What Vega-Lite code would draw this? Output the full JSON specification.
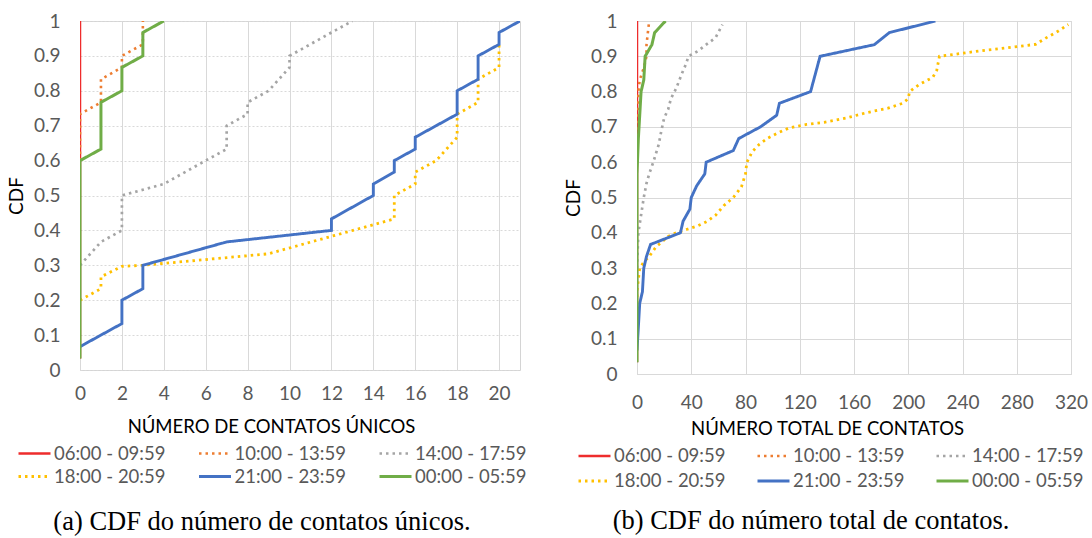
{
  "$schema": "https://vega.github.io/schema/vega-lite/v6.json",
  "background": "white",
  "padding": {"left": 6, "top": 11, "right": 5, "bottom": 0},
  "config": {
    "font": "Lato",
    "view": {"stroke": "#D4D4D4"},
    "axis": {
      "labelFont": "Lato", "labelFontSize": 19, "labelColor": "#595959",
      "ticks": false, "domain": false, "gridColor": "#D9D9D9", "gridWidth": 1,
      "titleFont": "Lato", "titleFontSize": 18.5, "titleFontWeight": "normal", "titleColor": "#000000"
    },
    "legend": {
      "symbolType": "M-1.6,0H1.6", "symbolSize": 400, "symbolStrokeWidth": 3.5,
      "labelFont": "Lato", "labelFontSize": 18.5, "labelColor": "#595959",
      "labelOffset": 8, "padding": 0, "offset": 0
    },
    "title": {"font": "Liberation Serif", "fontSize": 26.5, "fontWeight": "normal", "color": "#000000", "orient": "bottom", "anchor": "middle"}
  },
  "datasets": {
    "unicos": [
      {"s": "06:00 - 09:59", "x": 0, "y": 0.033}, {"s": "06:00 - 09:59", "x": 0, "y": 1},
      {"s": "10:00 - 13:59", "x": 0, "y": 0.6}, {"s": "10:00 - 13:59", "x": 0, "y": 0.733}, {"s": "10:00 - 13:59", "x": 1, "y": 0.767}, {"s": "10:00 - 13:59", "x": 1, "y": 0.833}, {"s": "10:00 - 13:59", "x": 2, "y": 0.867}, {"s": "10:00 - 13:59", "x": 2, "y": 0.9}, {"s": "10:00 - 13:59", "x": 3, "y": 0.933}, {"s": "10:00 - 13:59", "x": 3, "y": 1},
      {"s": "14:00 - 17:59", "x": 0, "y": 0.3}, {"s": "14:00 - 17:59", "x": 1, "y": 0.367}, {"s": "14:00 - 17:59", "x": 2, "y": 0.4}, {"s": "14:00 - 17:59", "x": 2, "y": 0.5}, {"s": "14:00 - 17:59", "x": 4, "y": 0.533}, {"s": "14:00 - 17:59", "x": 6, "y": 0.6}, {"s": "14:00 - 17:59", "x": 7, "y": 0.633}, {"s": "14:00 - 17:59", "x": 7, "y": 0.7}, {"s": "14:00 - 17:59", "x": 8, "y": 0.733}, {"s": "14:00 - 17:59", "x": 8, "y": 0.767}, {"s": "14:00 - 17:59", "x": 9, "y": 0.8}, {"s": "14:00 - 17:59", "x": 10, "y": 0.867}, {"s": "14:00 - 17:59", "x": 10, "y": 0.9}, {"s": "14:00 - 17:59", "x": 12, "y": 0.967}, {"s": "14:00 - 17:59", "x": 13, "y": 1},
      {"s": "18:00 - 20:59", "x": 0, "y": 0.2}, {"s": "18:00 - 20:59", "x": 1, "y": 0.233}, {"s": "18:00 - 20:59", "x": 1, "y": 0.267}, {"s": "18:00 - 20:59", "x": 2, "y": 0.297}, {"s": "18:00 - 20:59", "x": 3, "y": 0.3}, {"s": "18:00 - 20:59", "x": 9, "y": 0.333}, {"s": "18:00 - 20:59", "x": 12, "y": 0.383}, {"s": "18:00 - 20:59", "x": 15, "y": 0.433}, {"s": "18:00 - 20:59", "x": 15, "y": 0.5}, {"s": "18:00 - 20:59", "x": 16, "y": 0.533}, {"s": "18:00 - 20:59", "x": 16, "y": 0.567}, {"s": "18:00 - 20:59", "x": 17, "y": 0.6}, {"s": "18:00 - 20:59", "x": 18, "y": 0.667}, {"s": "18:00 - 20:59", "x": 18, "y": 0.733}, {"s": "18:00 - 20:59", "x": 19, "y": 0.767}, {"s": "18:00 - 20:59", "x": 19, "y": 0.833}, {"s": "18:00 - 20:59", "x": 20, "y": 0.867}, {"s": "18:00 - 20:59", "x": 20, "y": 0.933},
      {"s": "21:00 - 23:59", "x": 0, "y": 0.067}, {"s": "21:00 - 23:59", "x": 2, "y": 0.133}, {"s": "21:00 - 23:59", "x": 2, "y": 0.2}, {"s": "21:00 - 23:59", "x": 3, "y": 0.233}, {"s": "21:00 - 23:59", "x": 3, "y": 0.3}, {"s": "21:00 - 23:59", "x": 7, "y": 0.367}, {"s": "21:00 - 23:59", "x": 12, "y": 0.4}, {"s": "21:00 - 23:59", "x": 12, "y": 0.433}, {"s": "21:00 - 23:59", "x": 14, "y": 0.5}, {"s": "21:00 - 23:59", "x": 14, "y": 0.533}, {"s": "21:00 - 23:59", "x": 15, "y": 0.567}, {"s": "21:00 - 23:59", "x": 15, "y": 0.6}, {"s": "21:00 - 23:59", "x": 16, "y": 0.633}, {"s": "21:00 - 23:59", "x": 16, "y": 0.667}, {"s": "21:00 - 23:59", "x": 18, "y": 0.733}, {"s": "21:00 - 23:59", "x": 18, "y": 0.8}, {"s": "21:00 - 23:59", "x": 19, "y": 0.833}, {"s": "21:00 - 23:59", "x": 19, "y": 0.9}, {"s": "21:00 - 23:59", "x": 20, "y": 0.933}, {"s": "21:00 - 23:59", "x": 20, "y": 0.967}, {"s": "21:00 - 23:59", "x": 21, "y": 1},
      {"s": "00:00 - 05:59", "x": 0, "y": 0.033}, {"s": "00:00 - 05:59", "x": 0, "y": 0.6}, {"s": "00:00 - 05:59", "x": 1, "y": 0.633}, {"s": "00:00 - 05:59", "x": 1, "y": 0.767}, {"s": "00:00 - 05:59", "x": 2, "y": 0.8}, {"s": "00:00 - 05:59", "x": 2, "y": 0.867}, {"s": "00:00 - 05:59", "x": 3, "y": 0.9}, {"s": "00:00 - 05:59", "x": 3, "y": 0.967}, {"s": "00:00 - 05:59", "x": 4, "y": 1}
    ],
    "total": [
      {"s": "06:00 - 09:59", "x": 0, "y": 0.033}, {"s": "06:00 - 09:59", "x": 0, "y": 1},
      {"s": "10:00 - 13:59", "x": 0, "y": 0.6}, {"s": "10:00 - 13:59", "x": 0, "y": 0.667}, {"s": "10:00 - 13:59", "x": 1, "y": 0.8}, {"s": "10:00 - 13:59", "x": 2, "y": 0.833}, {"s": "10:00 - 13:59", "x": 5, "y": 0.867}, {"s": "10:00 - 13:59", "x": 7, "y": 0.9}, {"s": "10:00 - 13:59", "x": 7, "y": 0.933}, {"s": "10:00 - 13:59", "x": 8, "y": 0.967}, {"s": "10:00 - 13:59", "x": 9, "y": 1},
      {"s": "14:00 - 17:59", "x": 0, "y": 0.3}, {"s": "14:00 - 17:59", "x": 1, "y": 0.4}, {"s": "14:00 - 17:59", "x": 3, "y": 0.45}, {"s": "14:00 - 17:59", "x": 5, "y": 0.5}, {"s": "14:00 - 17:59", "x": 7, "y": 0.54}, {"s": "14:00 - 17:59", "x": 9, "y": 0.567}, {"s": "14:00 - 17:59", "x": 12, "y": 0.6}, {"s": "14:00 - 17:59", "x": 16, "y": 0.65}, {"s": "14:00 - 17:59", "x": 18, "y": 0.69}, {"s": "14:00 - 17:59", "x": 20, "y": 0.725}, {"s": "14:00 - 17:59", "x": 23, "y": 0.75}, {"s": "14:00 - 17:59", "x": 25, "y": 0.78}, {"s": "14:00 - 17:59", "x": 29, "y": 0.81}, {"s": "14:00 - 17:59", "x": 33, "y": 0.85}, {"s": "14:00 - 17:59", "x": 36, "y": 0.877}, {"s": "14:00 - 17:59", "x": 38, "y": 0.9}, {"s": "14:00 - 17:59", "x": 45, "y": 0.915}, {"s": "14:00 - 17:59", "x": 51, "y": 0.933}, {"s": "14:00 - 17:59", "x": 58, "y": 0.953}, {"s": "14:00 - 17:59", "x": 63, "y": 0.99},
      {"s": "18:00 - 20:59", "x": 0, "y": 0.2}, {"s": "18:00 - 20:59", "x": 0, "y": 0.233}, {"s": "18:00 - 20:59", "x": 1, "y": 0.267}, {"s": "18:00 - 20:59", "x": 2, "y": 0.3}, {"s": "18:00 - 20:59", "x": 5, "y": 0.317}, {"s": "18:00 - 20:59", "x": 9, "y": 0.333}, {"s": "18:00 - 20:59", "x": 14, "y": 0.36}, {"s": "18:00 - 20:59", "x": 18, "y": 0.373}, {"s": "18:00 - 20:59", "x": 23, "y": 0.39}, {"s": "18:00 - 20:59", "x": 29, "y": 0.4}, {"s": "18:00 - 20:59", "x": 37, "y": 0.41}, {"s": "18:00 - 20:59", "x": 45, "y": 0.42}, {"s": "18:00 - 20:59", "x": 52, "y": 0.433}, {"s": "18:00 - 20:59", "x": 58, "y": 0.45}, {"s": "18:00 - 20:59", "x": 64, "y": 0.477}, {"s": "18:00 - 20:59", "x": 71, "y": 0.5}, {"s": "18:00 - 20:59", "x": 77, "y": 0.53}, {"s": "18:00 - 20:59", "x": 80, "y": 0.567}, {"s": "18:00 - 20:59", "x": 81, "y": 0.6}, {"s": "18:00 - 20:59", "x": 85, "y": 0.63}, {"s": "18:00 - 20:59", "x": 90, "y": 0.65}, {"s": "18:00 - 20:59", "x": 96, "y": 0.667}, {"s": "18:00 - 20:59", "x": 104, "y": 0.683}, {"s": "18:00 - 20:59", "x": 112, "y": 0.697}, {"s": "18:00 - 20:59", "x": 125, "y": 0.707}, {"s": "18:00 - 20:59", "x": 138, "y": 0.713}, {"s": "18:00 - 20:59", "x": 154, "y": 0.725}, {"s": "18:00 - 20:59", "x": 169, "y": 0.74}, {"s": "18:00 - 20:59", "x": 185, "y": 0.753}, {"s": "18:00 - 20:59", "x": 196, "y": 0.767}, {"s": "18:00 - 20:59", "x": 200, "y": 0.78}, {"s": "18:00 - 20:59", "x": 201, "y": 0.8}, {"s": "18:00 - 20:59", "x": 208, "y": 0.82}, {"s": "18:00 - 20:59", "x": 218, "y": 0.84}, {"s": "18:00 - 20:59", "x": 221, "y": 0.86}, {"s": "18:00 - 20:59", "x": 223, "y": 0.9}, {"s": "18:00 - 20:59", "x": 233, "y": 0.905}, {"s": "18:00 - 20:59", "x": 252, "y": 0.915}, {"s": "18:00 - 20:59", "x": 273, "y": 0.924}, {"s": "18:00 - 20:59", "x": 294, "y": 0.934}, {"s": "18:00 - 20:59", "x": 302, "y": 0.953}, {"s": "18:00 - 20:59", "x": 310, "y": 0.97}, {"s": "18:00 - 20:59", "x": 318, "y": 0.99},
      {"s": "21:00 - 23:59", "x": 0, "y": 0.067}, {"s": "21:00 - 23:59", "x": 1, "y": 0.133}, {"s": "21:00 - 23:59", "x": 2, "y": 0.2}, {"s": "21:00 - 23:59", "x": 4, "y": 0.233}, {"s": "21:00 - 23:59", "x": 5, "y": 0.3}, {"s": "21:00 - 23:59", "x": 7, "y": 0.333}, {"s": "21:00 - 23:59", "x": 10, "y": 0.367}, {"s": "21:00 - 23:59", "x": 32, "y": 0.4}, {"s": "21:00 - 23:59", "x": 34, "y": 0.433}, {"s": "21:00 - 23:59", "x": 39, "y": 0.467}, {"s": "21:00 - 23:59", "x": 40, "y": 0.5}, {"s": "21:00 - 23:59", "x": 44, "y": 0.533}, {"s": "21:00 - 23:59", "x": 50, "y": 0.567}, {"s": "21:00 - 23:59", "x": 51, "y": 0.6}, {"s": "21:00 - 23:59", "x": 71, "y": 0.633}, {"s": "21:00 - 23:59", "x": 75, "y": 0.667}, {"s": "21:00 - 23:59", "x": 91, "y": 0.7}, {"s": "21:00 - 23:59", "x": 103, "y": 0.733}, {"s": "21:00 - 23:59", "x": 105, "y": 0.767}, {"s": "21:00 - 23:59", "x": 128, "y": 0.8}, {"s": "21:00 - 23:59", "x": 135, "y": 0.9}, {"s": "21:00 - 23:59", "x": 175, "y": 0.933}, {"s": "21:00 - 23:59", "x": 186, "y": 0.967}, {"s": "21:00 - 23:59", "x": 220, "y": 1},
      {"s": "00:00 - 05:59", "x": 0, "y": 0.033}, {"s": "00:00 - 05:59", "x": 0, "y": 0.567}, {"s": "00:00 - 05:59", "x": 1, "y": 0.667}, {"s": "00:00 - 05:59", "x": 2, "y": 0.733}, {"s": "00:00 - 05:59", "x": 3, "y": 0.8}, {"s": "00:00 - 05:59", "x": 5, "y": 0.833}, {"s": "00:00 - 05:59", "x": 6, "y": 0.9}, {"s": "00:00 - 05:59", "x": 11, "y": 0.933}, {"s": "00:00 - 05:59", "x": 13, "y": 0.967}, {"s": "00:00 - 05:59", "x": 21, "y": 1}
    ]
  },
  "spacing": 35,
  "resolve": {
    "scale": {"x": "independent", "y": "independent", "color": "independent", "strokeDash": "independent", "strokeWidth": "independent"},
    "legend": {"color": "independent", "strokeDash": "independent"}
  },
  "hconcat": [
    {
      "data": {"name": "unicos"},
      "width": 440,
      "height": 349,
      "title": {"text": "(a) CDF do número de contatos únicos.", "offset": 23, "dx": -38},
      "mark": {"type": "line", "clip": true, "strokeCap": "butt"},
      "encoding": {
        "x": {"field": "x", "type": "quantitative", "scale": {"domain": [0, 21], "nice": false, "zero": false},
          "axis": {"values": [0, 2, 4, 6, 8, 10, 12, 14, 16, 18, 20], "labelFlush": false, "labelOverlap": false, "title": "NÚMERO DE CONTATOS ÚNICOS", "labelPadding": 14, "titlePadding": 14, "titleX": 191}},
        "y": {"field": "y", "type": "quantitative", "scale": {"domain": [0, 1], "nice": false},
          "axis": {"values": [0, 0.1, 0.2, 0.3, 0.4, 0.5, 0.6, 0.7, 0.8, 0.9, 1], "format": "~g", "labelFlush": false, "labelOverlap": false, "title": "CDF", "titleFontSize": 19, "labelPadding": 20, "titlePadding": 7, "gridDash": [2, 2]}},
        "color": {"field": "s", "type": "nominal",
          "scale": {"domain": ["06:00 - 09:59", "10:00 - 13:59", "14:00 - 17:59", "18:00 - 20:59", "21:00 - 23:59", "00:00 - 05:59"], "range": ["#EE2C2C", "#ED7D31", "#A5A5A5", "#FFC000", "#4472C4", "#70AD47"]},
          "legend": {"title": null, "orient": "none", "legendX": -57, "legendY": 421, "direction": "horizontal", "columns": 3, "columnPadding": 26.5, "rowPadding": 2}},
        "strokeDash": {"field": "s", "type": "nominal",
          "scale": {"domain": ["06:00 - 09:59", "10:00 - 13:59", "14:00 - 17:59", "18:00 - 20:59", "21:00 - 23:59", "00:00 - 05:59"], "range": [[1, 0], [2.5, 4], [2.5, 4], [2.5, 4], [1, 0], [1, 0]]},
          "legend": {"title": null, "orient": "none", "legendX": -57, "legendY": 421, "direction": "horizontal", "columns": 3, "columnPadding": 26.5, "rowPadding": 2}},
        "strokeWidth": {"field": "s", "type": "nominal",
          "scale": {"domain": ["06:00 - 09:59", "10:00 - 13:59", "14:00 - 17:59", "18:00 - 20:59", "21:00 - 23:59", "00:00 - 05:59"], "range": [2.5, 3, 3, 3, 4, 3.5]},
          "legend": null},
        "order": {"field": "y", "type": "quantitative"}
      }
    },
    {
      "data": {"name": "total"},
      "width": 434,
      "height": 353,
      "title": {"text": "(b) CDF do número total de contatos.", "offset": 17, "dx": -43},
      "mark": {"type": "line", "clip": true, "strokeCap": "butt"},
      "encoding": {
        "x": {"field": "x", "type": "quantitative", "scale": {"domain": [0, 320], "nice": false, "zero": false},
          "axis": {"values": [0, 40, 80, 120, 160, 200, 240, 280, 320], "labelFlush": false, "labelOverlap": false, "title": "NÚMERO TOTAL DE CONTATOS", "labelPadding": 19, "titlePadding": 7, "titleX": 190}},
        "y": {"field": "y", "type": "quantitative", "scale": {"domain": [0, 1], "nice": false},
          "axis": {"values": [0, 0.1, 0.2, 0.3, 0.4, 0.5, 0.6, 0.7, 0.8, 0.9, 1], "format": "~g", "labelFlush": false, "labelOverlap": false, "title": "CDF", "titleFontSize": 19, "labelPadding": 20, "titlePadding": 7}},
        "color": {"field": "s", "type": "nominal",
          "scale": {"domain": ["06:00 - 09:59", "10:00 - 13:59", "14:00 - 17:59", "18:00 - 20:59", "21:00 - 23:59", "00:00 - 05:59"], "range": ["#EE2C2C", "#ED7D31", "#A5A5A5", "#FFC000", "#4472C4", "#70AD47"]},
          "legend": {"title": null, "orient": "none", "legendX": -54, "legendY": 423.5, "direction": "horizontal", "columns": 3, "columnPadding": 25, "rowPadding": 4}},
        "strokeDash": {"field": "s", "type": "nominal",
          "scale": {"domain": ["06:00 - 09:59", "10:00 - 13:59", "14:00 - 17:59", "18:00 - 20:59", "21:00 - 23:59", "00:00 - 05:59"], "range": [[1, 0], [2.5, 4], [2.5, 4], [2.5, 4], [1, 0], [1, 0]]},
          "legend": {"title": null, "orient": "none", "legendX": -54, "legendY": 423.5, "direction": "horizontal", "columns": 3, "columnPadding": 25, "rowPadding": 4}},
        "strokeWidth": {"field": "s", "type": "nominal",
          "scale": {"domain": ["06:00 - 09:59", "10:00 - 13:59", "14:00 - 17:59", "18:00 - 20:59", "21:00 - 23:59", "00:00 - 05:59"], "range": [2.5, 3, 3, 3, 4, 3.5]},
          "legend": null},
        "order": {"field": "y", "type": "quantitative"}
      }
    }
  ]
}
